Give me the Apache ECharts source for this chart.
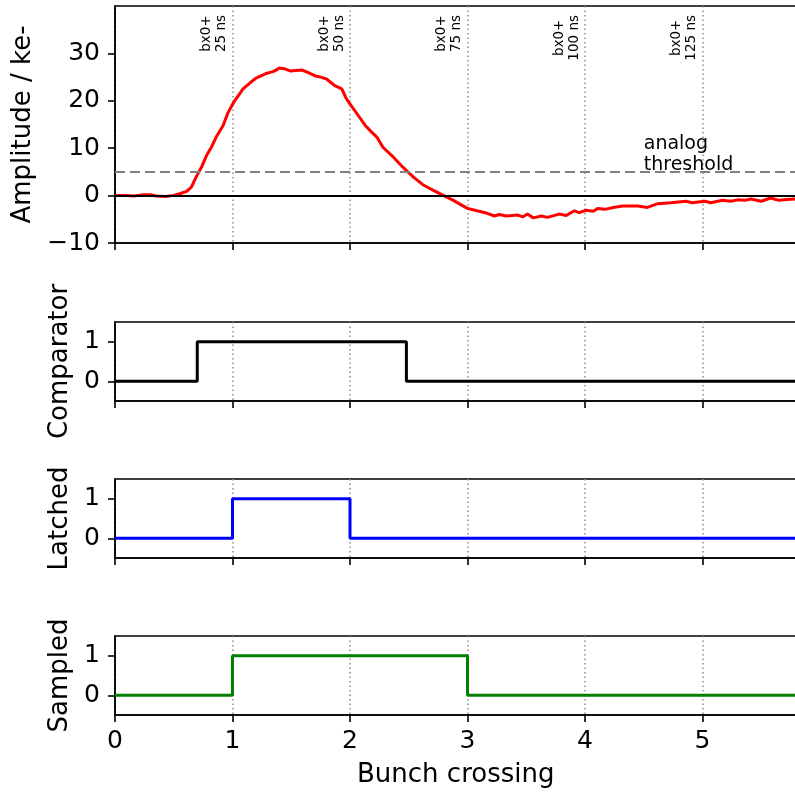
<!DOCTYPE html>
<html><head><meta charset="utf-8">
<script src="https://cdn.jsdelivr.net/npm/echarts@6/dist/echarts.min.js"></script>
<style>html,body{margin:0;padding:0;background:#fff}#c{width:795px;height:799px}</style>
</head><body><div id="c"></div>
<script>
// ---- data ----
const ampT = [0, 0.10, 0.16, 0.24, 0.30, 0.35, 0.43, 0.50, 0.55, 0.61, 0.65, 0.69, 0.74, 0.78, 0.82, 0.86, 0.92, 0.96, 1.01, 1.05,
  1.09, 1.15, 1.20, 1.28, 1.35, 1.40, 1.45, 1.49, 1.54, 1.59, 1.64, 1.70, 1.75, 1.80, 1.87, 1.93, 1.97, 2.01, 2.07, 2.13,
  2.18, 2.23, 2.28, 2.37, 2.45, 2.54, 2.62, 2.71, 2.79, 2.88, 2.95, 3.00, 3.08, 3.15, 3.23, 3.27, 3.33, 3.43, 3.47, 3.51,
  3.56, 3.63, 3.68, 3.78, 3.84, 3.91, 3.95, 4.01, 4.07, 4.11, 4.17, 4.24, 4.32, 4.38, 4.45, 4.53, 4.62, 4.73, 4.86, 4.91,
  5.02, 5.07, 5.17, 5.24, 5.30, 5.36, 5.41, 5.50, 5.58, 5.65, 5.72, 5.80];
const ampV = [0.0, 0.0, -0.1, 0.2, 0.2, -0.1, -0.2, 0.05, 0.4, 0.9, 1.8, 3.9, 6.2, 8.5, 10.2, 12.3, 14.8, 17.4, 19.7, 21.1,
  22.5, 23.8, 24.8, 25.7, 26.2, 26.9, 26.7, 26.3, 26.4, 26.5, 26.0, 25.3, 25.0, 24.6, 23.2, 22.5, 20.4, 19.0, 16.9, 14.8,
  13.5, 12.3, 10.2, 8.1, 6.0, 3.9, 2.3, 1.1, 0.1, -1.0, -2.0, -2.7, -3.2, -3.6, -4.3, -4.0, -4.3, -4.1, -4.5, -3.9,
  -4.7, -4.3, -4.6, -3.9, -4.2, -3.2, -3.6, -3.1, -3.3, -2.7, -2.9, -2.5, -2.2, -2.2, -2.2, -2.5, -1.7, -1.5, -1.2, -1.5,
  -1.2, -1.5, -1.0, -1.2, -0.9, -1.0, -0.7, -1.2, -0.5, -1.0, -0.8, -0.7];
const compX = [0, 0.70, 2.48, 5.8];
const compY = [0, 1, 0, 0];
const latchX = [0, 1, 2, 5.8];
const latchY = [0, 1, 0, 0];
const sampX = [0, 1, 3, 5.8];
const sampY = [0, 1, 0, 0];
const xTicks = [0, 1, 2, 3, 4, 5];
const ampTicks = [-10, 0, 10, 20, 30];
const digTicks = [0, 1];
const bxMarks = [1, 2, 3, 4, 5];
const bxLabels = ['bx0+\n25 ns', 'bx0+\n50 ns', 'bx0+\n75 ns', 'bx0+\n100 ns', 'bx0+\n125 ns'];
const THRESHOLD = 5;
const thresholdLabel = 'analog\nthreshold';
const yNames = ['Amplitude / ke-', 'Comparator', 'Latched', 'Sampled'];
const xName = 'Bunch crossing';

// ---- layout / style ----
const FONT = 'DejaVu Sans';
const X_MIN = 0, X_MAX = 5.8;
const tops = [6, 322, 479, 636];
const heights = [237, 79, 79, 79];
const LEFT = 115, WIDTH = 681.5;
const axisCol = '#000';

const zip = (xs, ys) => xs.map((x, i) => [x, ys[i]]);

const grids = tops.map((t, i) => ({
  left: LEFT, top: t, width: WIDTH, height: heights[i],
  show: true, borderColor: axisCol, borderWidth: 1.6, backgroundColor: 'transparent',
  containLabel: false, outerBoundsMode: 'none'
}));

const xAxes = tops.map((t, i) => ({
  gridIndex: i, type: 'value', min: X_MIN, max: X_MAX, interval: 1,
  axisLine: { show: true, onZero: false, lineStyle: { color: axisCol, width: 1.6 } },
  axisTick: { show: true, length: 7, customValues: xTicks, lineStyle: { color: axisCol, width: 1.6 } },
  axisLabel: { show: i === 3, customValues: xTicks, color: '#000', fontSize: 25, fontFamily: FONT, margin: 14 },
  splitLine: { show: true, lineStyle: { color: '#8c8c8c', width: 1.5, type: [1.5, 3] } },
  name: i === 3 ? xName : '', nameLocation: 'middle', nameGap: 47,
  nameTextStyle: { color: '#000', fontSize: 26, fontFamily: FONT }
}));

const yAxes = tops.map((t, i) => ({
  gridIndex: i, type: 'value',
  min: i === 0 ? -10 : -0.5, max: i === 0 ? 40 : 1.5, interval: i === 0 ? 10 : 0.5,
  axisLine: { show: true, onZero: false, lineStyle: { color: axisCol, width: 1.6 } },
  axisTick: { show: true, length: 7, customValues: i === 0 ? ampTicks : digTicks, lineStyle: { color: axisCol, width: 1.6 } },
  axisLabel: { show: true, customValues: i === 0 ? ampTicks : digTicks, color: '#000', fontSize: 25, fontFamily: FONT, margin: 15,
    formatter: v => (v < 0 ? '\u2212' + Math.abs(v) : String(v)) },
  splitLine: { show: false },
  name: yNames[i], nameLocation: 'middle', nameRotate: 90, nameGap: i === 0 ? 72 : 34,
  nameTextStyle: { color: '#000', fontSize: 26, fontFamily: FONT }
}));

const chart = echarts.init(document.getElementById('c'), null, { renderer: 'canvas' });
chart.setOption({
  animation: false,
  backgroundColor: '#fff',
  grid: grids,
  xAxis: xAxes,
  yAxis: yAxes,
  series: [
    {
      type: 'line', xAxisIndex: 0, yAxisIndex: 0, z: 1, silent: true,
      data: zip(ampT, ampV), showSymbol: false, lineStyle: { opacity: 0 },
      markLine: {
        silent: true, symbol: ['none', 'none'], label: { show: false },
        data: [
          { yAxis: 0, lineStyle: { color: '#000', width: 2, type: 'solid' } },
          { yAxis: THRESHOLD, lineStyle: { color: '#808080', width: 2, type: [10, 5] } }
        ]
      }
    },
    { type: 'line', xAxisIndex: 0, yAxisIndex: 0, z: 3, data: zip(ampT, ampV), showSymbol: false,
      lineStyle: { color: '#ff0000', width: 3 } },
    { type: 'line', xAxisIndex: 1, yAxisIndex: 1, step: 'end', data: zip(compX, compY), showSymbol: false,
      lineStyle: { color: '#000000', width: 3 } },
    { type: 'line', xAxisIndex: 2, yAxisIndex: 2, step: 'end', data: zip(latchX, latchY), showSymbol: false,
      lineStyle: { color: '#0000ff', width: 3 } },
    { type: 'line', xAxisIndex: 3, yAxisIndex: 3, step: 'end', data: zip(sampX, sampY), showSymbol: false,
      lineStyle: { color: '#008000', width: 3 } }
  ]
});

// ---- annotations placed through the axes' own scales ----
const ctx = document.createElement('canvas').getContext('2d');
const bxFont = '13.5px "DejaVu Sans"';
ctx.font = bxFont;
const graphics = [];
bxMarks.forEach((m, k) => {
  const p = chart.convertToPixel({ xAxisIndex: 0, yAxisIndex: 0 }, [m, 40]);
  const maxW = Math.max(...bxLabels[k].split('\n').map(s => ctx.measureText(s).width));
  graphics.push({
    type: 'text', x: p[0] - 3.5, y: p[1] + 9 + maxW / 2, rotation: Math.PI / 2, silent: true,
    style: { text: bxLabels[k], font: bxFont, fill: '#000', align: 'center', verticalAlign: 'bottom', lineHeight: 15 }
  });
});
const tp = chart.convertToPixel({ xAxisIndex: 0, yAxisIndex: 0 }, [4.5, THRESHOLD]);
graphics.push({
  type: 'text', x: tp[0], y: tp[1] + 4, silent: true,
  style: { text: thresholdLabel, font: '19px "DejaVu Sans"', fill: '#000', align: 'left', verticalAlign: 'bottom', lineHeight: 21 }
});
chart.setOption({ graphic: graphics });
</script>
</body></html>
